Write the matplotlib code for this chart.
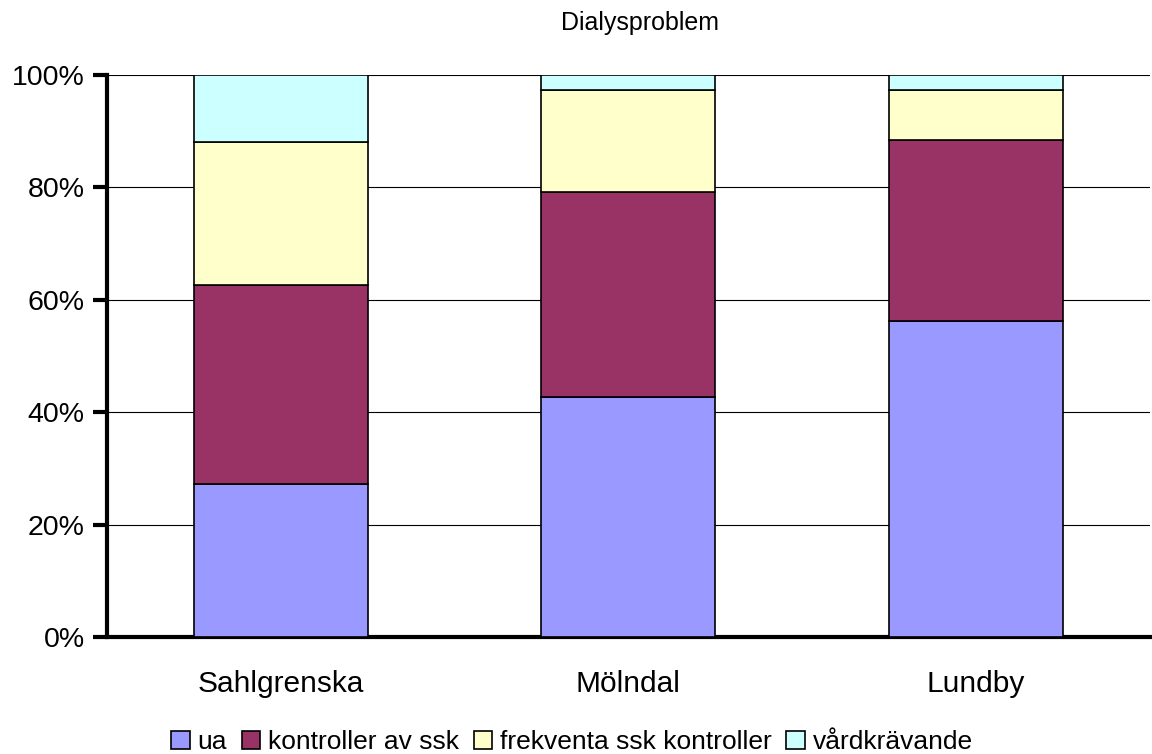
import matplotlib
matplotlib.use("Agg")
import matplotlib.pyplot as plt
import numpy as np

plt.rcParams['font.family'] = ['Liberation Sans', 'DejaVu Sans']

categories = ['Sahlgrenska', 'Mölndal', 'Lundby']
series_names = ['ua', 'kontroller av ssk', 'frekventa ssk kontroller', 'vårdkrävande']
ua = [27.2, 42.7, 56.2]
kontroller = [35.4, 36.5, 32.2]
frekventa = [25.5, 18.1, 8.9]
vardkravande = [11.9, 2.7, 2.7]
colors = ['#9999FF', '#993366', '#FFFFCC', '#CCFFFF']

fig = plt.figure(figsize=(11.52, 7.54), dpi=100)
ax = fig.add_axes([0.0929, 0.1552, 0.9051, 0.7453])

x = np.arange(len(categories))
bottom = np.zeros(len(categories))
for name, vals, c in zip(series_names, [ua, kontroller, frekventa, vardkravande], colors):
    ax.bar(x, vals, 0.5, bottom=bottom, color=c, edgecolor='black', linewidth=1.2,
           label=name, zorder=3)
    bottom += np.array(vals)

ax.set_xlim(-0.5, 2.5)
ax.set_ylim(0, 100)
ax.set_yticks(range(0, 101, 20))
ax.set_yticklabels([f'{v}%' for v in range(0, 101, 20)], fontsize=20.5)
ax.set_xticks(x)
ax.set_xticklabels(categories, fontsize=21.5)
ax.tick_params(axis='x', length=0, pad=24)
ax.tick_params(axis='y', length=10, width=3, pad=6)
ax.yaxis.grid(True, color='black', linewidth=0.8, zorder=0)
for s in ['top', 'right']:
    ax.spines[s].set_visible(False)
ax.spines['left'].set_linewidth(3)
ax.spines['bottom'].set_linewidth(3)

fig.text(640 / 1152, 1 - 23 / 754, 'Dialysproblem', ha='center', va='center', fontsize=18)

fig.legend(loc='center', bbox_to_anchor=(572 / 1152, 1 - 742 / 754), ncol=4, frameon=False,
           fontsize=19, handlelength=0.7, handleheight=0.7, handletextpad=0.3,
           columnspacing=0.55, borderpad=0)

fig.savefig('out.png', dpi=100)
